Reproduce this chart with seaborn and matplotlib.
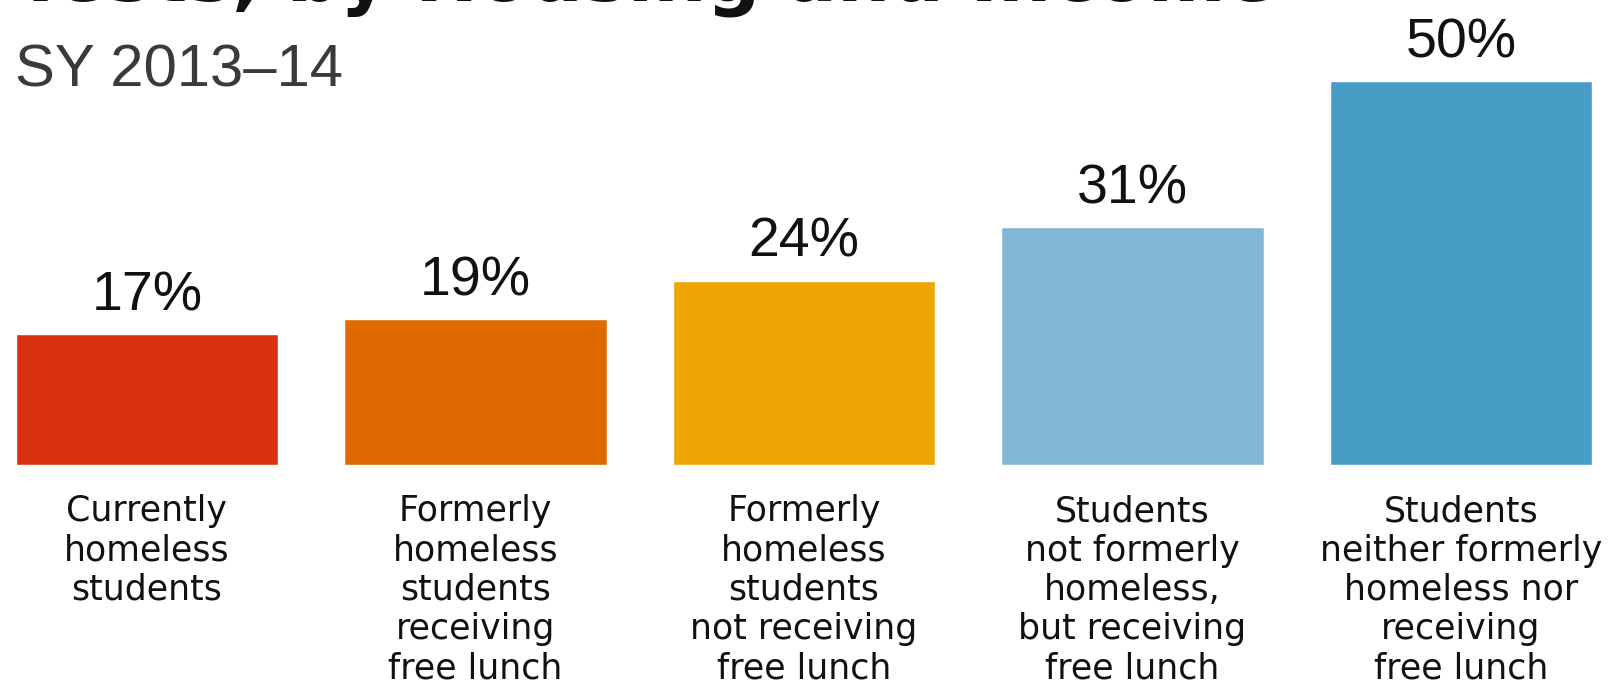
import matplotlib
matplotlib.use("Agg")
import matplotlib.pyplot as plt
import seaborn as sns
import pandas as pd

categories = [
    "Currently\nhomeless\nstudents",
    "Formerly\nhomeless\nstudents\nreceiving\nfree lunch",
    "Formerly\nhomeless\nstudents\nnot receiving\nfree lunch",
    "Students\nnot formerly\nhomeless,\nbut receiving\nfree lunch",
    "Students\nneither formerly\nhomeless nor\nreceiving\nfree lunch",
]
values = [17, 19, 24, 31, 50]
colors = ["#D8310F", "#E06A02", "#F0A505", "#80B7D4", "#479DC5"]
title = "Tests, by Housing and Income"
subtitle = "SY 2013\u201314"

sns.set_theme(style="white")
plt.rcParams["font.family"] = ["DejaVu Sans"]

W, H = 1612, 683
fig = plt.figure(figsize=(W / 100, H / 100), dpi=100)
ax = fig.add_axes([0, (H - 465) / H, 1, 465 / H])

df = pd.DataFrame({"cat": categories, "val": values})
sns.barplot(data=df, x="cat", y="val", hue="cat", palette=colors,
            width=0.8, legend=False, ax=ax, saturation=1)

unit = 328.5
c0 = 147
ax.set_xlim(-c0 / unit, (W - c0) / unit)
ax.set_ylim(0, 465 / 7.68)
for s in ax.spines.values():
    s.set_visible(False)
ax.set_yticks([])
ax.set_xlabel("")
ax.set_ylabel("")
ax.tick_params(axis="x", length=0, pad=21)
for lab in ax.get_xticklabels():
    lab.set_fontsize(25)
    lab.set_linespacing(1.2)
    lab.set_color("#111111")

for cont in ax.containers:
    ax.bar_label(cont, fmt="%g%%", padding=8.5, fontsize=40,
                 family="Liberation Sans", color="#111111")

fig.text(15 / W, 1 - 0.5 / H, title, fontsize=54, fontweight="bold",
         ha="left", va="baseline", color="#111111")
fig.text(15 / W, 1 - 71 / H, subtitle, fontsize=43, family="Liberation Sans",
         ha="left", va="center", color="#3a3a3a")

fig.savefig("out.png", dpi=100)
